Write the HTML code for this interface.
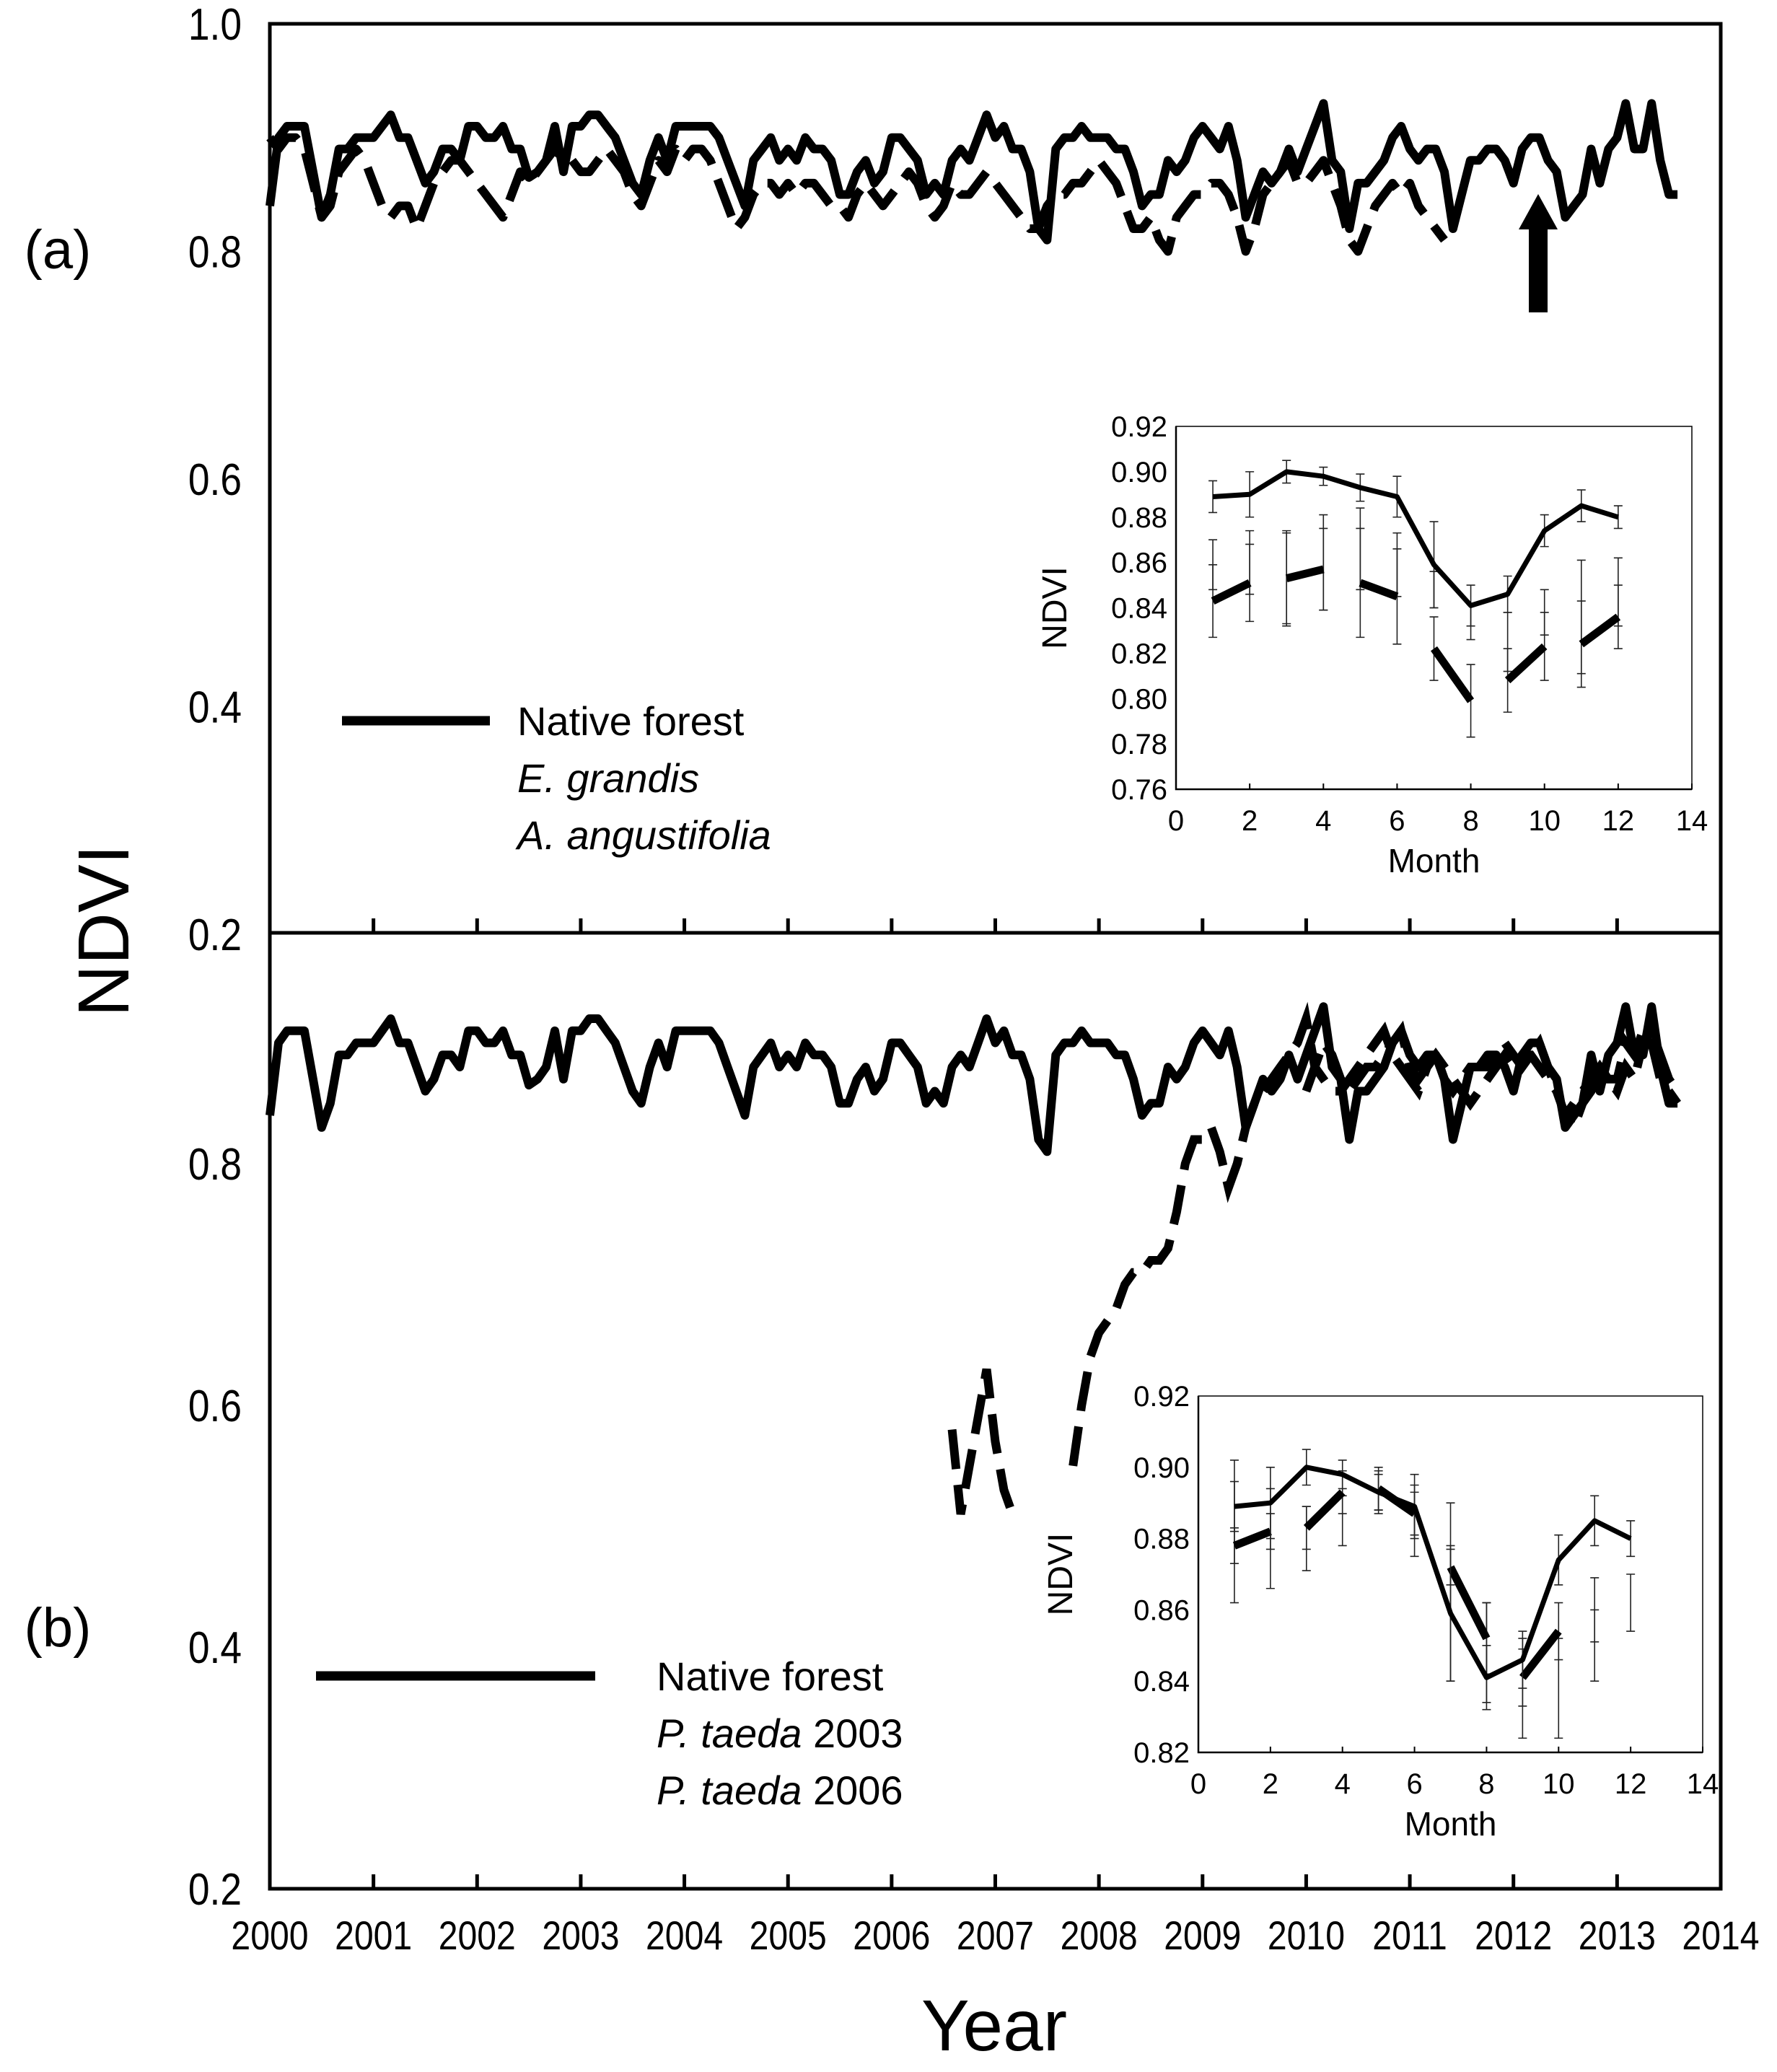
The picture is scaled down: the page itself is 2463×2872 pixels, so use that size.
<!DOCTYPE html>
<html><head><meta charset="utf-8"><style>
html,body{margin:0;padding:0;background:#fff}
svg{display:block;font-family:"Liberation Sans",sans-serif}
</style></head><body>
<svg id="chart" width="2463" height="2872" viewBox="0 0 2463 2872" xmlns="http://www.w3.org/2000/svg">
<rect width="2463" height="2872" fill="#fff"/>
<g id="g"></g>
</svg>
<script>
// ---- data ----
const yearTicks = [2000,2001,2002,2003,2004,2005,2006,2007,2008,2009,2010,2011,2012,2013,2014];
const mainYTicksTop = [0.2,0.4,0.6,0.8,1.0];
const mainYTicksBottom = [0.2,0.4,0.6,0.8];
const nativeForest = [
.84,.90,.91,.91,.91,.87,.83,.85,.89,.89,.90,.90,
.90,.91,.92,.90,.90,.88,.86,.87,.89,.89,.88,.91,
.91,.90,.90,.91,.89,.89,.865,.87,.88,.91,.87,.91,
.91,.92,.92,.91,.90,.88,.86,.85,.88,.90,.88,.91,
.91,.91,.91,.91,.90,.88,.86,.84,.88,.89,.90,.88,
.89,.88,.90,.89,.89,.88,.85,.85,.87,.88,.86,.87,
.90,.90,.89,.88,.85,.86,.85,.88,.89,.88,.90,.92,
.90,.91,.89,.89,.87,.82,.81,.89,.90,.90,.91,.90,
.90,.90,.89,.89,.87,.84,.85,.85,.88,.87,.88,.90,
.91,.90,.89,.91,.88,.83,.85,.87,.86,.87,.89,.87,
.89,.91,.93,.88,.87,.82,.86,.86,.87,.88,.90,.91,
.89,.88,.89,.89,.87,.82,.85,.88,.88,.89,.89,.88,
.86,.89,.90,.90,.88,.87,.83,.84,.85,.89,.86,.89,
.90,.93,.89,.89,.93,.88,.85,.85];
const eGrandis = [
.90,.89,.90,.90,.89,.86,.83,.84,.87,.88,.89,.88,
.86,.84,.83,.84,.84,.82,.84,.86,.87,.88,.88,.87,
.86,.85,.84,.83,.85,.87,.86,.87,.88,.89,.88,.88,
.87,.87,.88,.89,.88,.87,.85,.84,.86,.88,.87,.89,
.88,.89,.89,.88,.86,.84,.82,.83,.85,.86,.86,.85,
.86,.85,.86,.86,.85,.84,.84,.83,.85,.86,.85,.84,
.85,.86,.87,.86,.84,.83,.84,.86,.85,.85,.86,.87,
.86,.85,.84,.83,.82,.82,.84,.85,.85,.86,.86,.87,
.88,.87,.86,.84,.82,.82,.83,.81,.80,.83,.84,.85,
.85,.86,.86,.85,.83,.80,.82,.85,.86,.87,.88,.86,
.86,.87,.88,.86,.84,.81,.80,.82,.84,.85,.86,.85,
.86,.84,.83,.82,.81];
const taeda2006Start = 79; // month index (Aug 2006)
const pTaeda2006 = [
.58,.51,.55,.59,.63,
.57,.53,.51,null,null,null,null,null,null,.55,.60,.64,
.66,.67,.68,.70,.71,.71,.72,.72,.73,.76,.80,.82,
.82,.83,.81,.78,.80,.83,.85,.86,.87,.88,.89,.90,
.92,.88,.87,.86,.86,.87,.88,.89,.90,.91,.89,.88,
.87,.86,.88,.89,.88,.87,.86,.85,.86,.87,.88,.89,
.88,.89,.89,.88,.87,.86,.84,.83,.85,.86,.88,.87,
.87,.90,.89,.91,.90,.87,.86,.85];
const taeda2003Start = 120;
const pTaeda2003 = [
.86,.88,.90,.89,.87,.86,.87,.88,.88,.89,.90,.91,
.88,.87,.88,.89,.87,.86,.87,.88,.88,.88,.89,.90,
.89,.88,.89,.90,.88,.86,.84,.85,.86,.87,.88,.87,
.86,.88,.87,.90,.91,.89,.87,.86];
// insets
const months = [1,2,3,4,5,6,7,8,9,10,11,12];
const insetXTicks = [0,2,4,6,8,10,12,14];
const insetATicks = [0.76,0.78,0.80,0.82,0.84,0.86,0.88,0.90,0.92];
const insetBTicks = [0.82,0.84,0.86,0.88,0.90,0.92];
const nativeMonthly = [.889,.890,.900,.898,.893,.889,.859,.841,.846,.874,.885,.880];
const nativeMonthlyErr = [.007,.010,.005,.004,.006,.009,.019,.009,.008,.007,.007,.005];
const eGrandisMonthly = [.843,.851,.853,.857,.851,.845,.822,.799,.808,.823,.824,.836];
const eGrandisMonthlyErr = [.016,.017,.021,.018,.024,.021,.014,.016,.014,.015,.019,.014];
const aAngMonthly = [.859,.860,.853,.860,.866,.859,.848,.834,.825,.838,.836,.847];
const aAngMonthlyErr = [.011,.014,.020,.021,.018,.014,.008,.008,.013,.010,.025,.015];
const taedaMonthly = [.878,.882,.883,.893,.894,.887,.872,.852,.841,.854,.860,null];
const taedaMonthlyErr = [.005,.005,.006,.006,.006,.006,.005,.010,.008,.008,.009,0];
const taeda06Monthly = [.882,.880,.880,.885,.893,.885,.865,.848,.838,.838,.850,.862];
const taeda06MonthlyErr = [.020,.014,.009,.007,.005,.010,.025,.014,.014,.014,.010,.008];

// ---- drawing ----
const NS='http://www.w3.org/2000/svg';
const G=document.getElementById('g');
function el(tag,attrs,parent){const e=document.createElementNS(NS,tag);for(const k in attrs)e.setAttribute(k,attrs[k]);(parent||G).appendChild(e);return e;}
function txt(s,x,y,size,attrs,parent){const t=el('text',Object.assign({x:x,y:y,'font-size':size},attrs||{}),parent);t.textContent=s;return t;}

const L=374,R=2385,TOP=33,MID=1293,BOT=2618;
const X=t=>L+(t-2000)*(R-L)/14;
const Ytop=v=>TOP+(1.0-v)*1577.5;
const Ybot=v=>BOT-(v-0.2)*1675;

function pathFrom(vals,start,xf,yf){
  let d='',pen=false;
  vals.forEach((v,i)=>{ if(v==null){pen=false;return;}
    const x=xf(start+i),y=yf(v); d+=(pen?'L':'M')+x.toFixed(1)+' '+y.toFixed(1)+' '; pen=true;});
  return d;
}
const monthT=i=>2000+i/12;

const frame=el('path',{d:`M${L} ${TOP}H${R}V${BOT}H${L}Z M${L} ${MID}H${R}`,fill:'none',stroke:'#000','stroke-width':5});



yearTicks.forEach(y=>{
  const x=X(y);
  if(y>2000&&y<2014){
    const tk=el('line',{x1:x,x2:x,y1:MID,y2:MID-20,stroke:'#000','stroke-width':5});
    
    
    const tk2=el('line',{x1:x,x2:x,y1:BOT,y2:BOT-20,stroke:'#000','stroke-width':5});
    
    
  }
  const t=txt(String(y),x,2702,56,{'text-anchor':'middle',transform:`translate(${x} 0) scale(0.86 1) translate(${-x} 0)`});
  
  
});
mainYTicksTop.forEach(v=>{
  const t=txt(v.toFixed(1),335,Ytop(v)+22,62,{'text-anchor':'end',transform:`translate(335 0) scale(0.86 1) translate(-335 0)`});
  
  
});
mainYTicksBottom.forEach(v=>{
  const t=txt(v.toFixed(1),335,Ybot(v)+22,62,{'text-anchor':'end',transform:`translate(335 0) scale(0.86 1) translate(-335 0)`});
  
  
});
let t;
t=txt('NDVI',178,1290,100,{'text-anchor':'middle',transform:'rotate(-90 178 1290)'});  
t=txt('Year',1378,2842,100,{'text-anchor':'middle'});  
t=txt('(a)',80,372,76,{'text-anchor':'middle'});  
t=txt('(b)',80,2282,76,{'text-anchor':'middle'});  

let p;
p=el('path',{d:pathFrom(eGrandis,0,i=>X(monthT(i)),Ytop),fill:'none',stroke:'#000','stroke-width':12,'stroke-dasharray':'55 22','stroke-linejoin':'round'});
 
p=el('path',{d:pathFrom(nativeForest,0,i=>X(monthT(i)),Ytop),fill:'none',stroke:'#000','stroke-width':12,'stroke-linejoin':'round'});
 
p=el('path',{d:pathFrom(nativeForest,0,i=>X(monthT(i)),Ybot),fill:'none',stroke:'#000','stroke-width':12,'stroke-linejoin':'round'});
 
p=el('path',{d:pathFrom(pTaeda2003,taeda2003Start,i=>X(monthT(i)),Ybot),fill:'none',stroke:'#000','stroke-width':12,'stroke-dasharray':'55 22'});
 
p=el('path',{d:pathFrom(pTaeda2006,taeda2006Start,i=>X(monthT(i)),Ybot),fill:'none',stroke:'#000','stroke-width':12,'stroke-dasharray':'55 22'});
 

p=el('path',{d:'M2132 269 L2159 318 L2145 318 L2145 433 L2119 433 L2119 318 L2105 318 Z',fill:'#000'});
 

p=el('line',{x1:474,x2:679,y1:999,y2:999,stroke:'#000','stroke-width':13});
 
t=txt('Native forest',717,1019,56);  
t=txt('E. grandis',717,1098,56,{'font-style':'italic'});  
t=txt('A. angustifolia',717,1177,56,{'font-style':'italic'});  
p=el('line',{x1:438,x2:825,y1:2323,y2:2323,stroke:'#000','stroke-width':13});
 
t=txt('Native forest',910,2343,56);  
t=txt('',910,2422,56); t.innerHTML='<tspan font-style="italic">P. taeda</tspan> 2003';  
t=txt('',910,2501,56); t.innerHTML='<tspan font-style="italic">P. taeda</tspan> 2006';  

function inset(name,x0,y0,x1,y1,ymin,ymax,yt,series,labelPos){
  const g=el('g',{});
  
  
  const xs=m=>x0+m*(x1-x0)/14, ys=v=>y1-(v-ymin)/(ymax-ymin)*(y1-y0);
  el('rect',{x:x0,y:y0,width:x1-x0,height:y1-y0,fill:'#fff',stroke:'#000','stroke-width':1.5},g);
  el('path',{d:`M${x0} ${y0}V${y1}H${x1}`,fill:'none',stroke:'#000','stroke-width':2.5},g);
  insetXTicks.forEach(m=>{
    el('line',{x1:xs(m),x2:xs(m),y1:y1,y2:y1-8,stroke:'#000','stroke-width':2},g);
    const tt=txt(String(m),xs(m),y1+57,40,{'text-anchor':'middle'},g);
    
    
  });
  yt.forEach(v=>{
    const tt=txt(v.toFixed(2),x0-12,ys(v)+14,40,{'text-anchor':'end'},g);
    
    
  });
  let tt=txt('Month',(x0+x1)/2,y1+115,46,{'text-anchor':'middle'},g);
   
  tt=txt('NDVI',labelPos,(y0+y1)/2,48,{'text-anchor':'middle',transform:`rotate(-90 ${labelPos} ${(y0+y1)/2})`},g);
   
  series.forEach(s=>{
    if(s.err) s.vals.forEach((v,i)=>{ if(v==null||!s.err[i])return;
      const x=xs(months[i]),a=ys(v-s.err[i]),b=ys(v+s.err[i]);
      const eb=el('path',{d:`M${x} ${a}V${b}M${x-6} ${a}H${x+6}M${x-6} ${b}H${x+6}`,stroke:'#222','stroke-width':1.6,fill:'none'},g);
      
      
    });
    if(!s.line)return;
    let d='';
    if(s.pairs){
      for(let i=0;i+1<s.vals.length;i+=2){ if(s.vals[i]==null||s.vals[i+1]==null)continue;
        d+=`M${xs(months[i])} ${ys(s.vals[i])}L${xs(months[i+1])} ${ys(s.vals[i+1])}`; }
    } else d=pathFrom(s.vals,0,i=>xs(months[i]),ys);
    const pl=el('path',{d:d,fill:'none',stroke:'#000','stroke-width':s.w,'stroke-linejoin':'round'},g);
    
    
  });
}
inset('inset-a',1630,591,2345,1094,0.76,0.92,insetATicks,[
  {name:'inset-a-a-angustifolia',vals:aAngMonthly,err:aAngMonthlyErr,line:false},
  {name:'inset-a-e-grandis',vals:eGrandisMonthly,err:eGrandisMonthlyErr,line:true,pairs:true,w:11},
  {name:'inset-a-native',vals:nativeMonthly,err:nativeMonthlyErr,line:true,w:7}
],1478);
inset('inset-b',1661,1935,2360,2429,0.82,0.92,insetBTicks,[
  {name:'inset-b-p-taeda-2006',vals:taeda06Monthly,err:taeda06MonthlyErr,line:false},
  {name:'inset-b-p-taeda',vals:taedaMonthly,err:taedaMonthlyErr,line:true,pairs:true,w:11},
  {name:'inset-b-native',vals:nativeMonthly,err:nativeMonthlyErr,line:true,w:7}
],1486);
</script>
</body></html>
